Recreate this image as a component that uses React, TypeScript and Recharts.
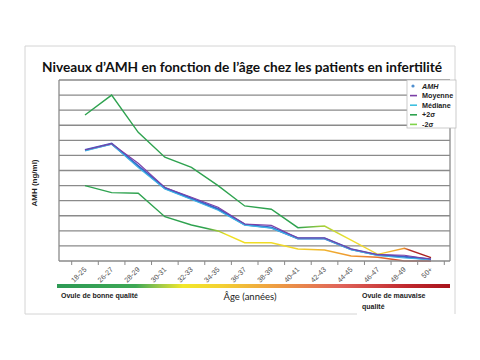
import React from "react";
import { LineChart, Line, XAxis, YAxis, ReferenceLine } from "recharts";

// age groups along the x axis
const AGES = [
	"18-25", "26-27", "28-29", "30-31", "32-33", "34-35", "36-37",
	"38-39", "40-41", "42-43", "44-45", "46-47", "48-49", "50+",
];

// AMH values (ng/ml)
const AMH = [7.36, 7.78, 6.3, 4.83, 4.15, 3.45, 2.42, 2.22, 1.5, 1.5, 0.78, 0.4, 0.28, 0.11];
const MOYENNE = [7.36, 7.78, 6.48, 4.88, 4.22, 3.56, 2.45, 2.36, 1.52, 1.52, 0.8, 0.42, 0.38, 0.12];
const MEDIANE = [7.3, 7.75, 6.2, 4.78, 4.08, 3.36, 2.38, 2.18, 1.48, 1.48, 0.74, 0.36, 0.2, 0.08];
const PLUS_2SD = [9.68, 11.0, 8.53, 6.88, 6.21, 5.0, 3.65, 3.43, 2.21, 2.32, 1.39, 0.44, 0.84, 0.22];
const MINUS_2SD = [5.0, 4.53, 4.49, 2.94, 2.39, 1.99, 1.21, 1.21, 0.8, 0.73, 0.33, 0.25, 0, 0];

const Y_TICKS = [1, 2, 3, 4, 5, 6, 7, 8, 9, 10, 11, 12];

const LEGEND = [
	{ label: "AMH", color: "#4f8fcf", dot: true },
	{ label: "Moyenne", color: "#7b3fa6" },
	{ label: "Médiane", color: "#3fc0e0" },
	{ label: "+2σ", color: "#2ea24f" },
	{ label: "-2σ", color: "#7fd34a" },
];

const chartData = AGES.map((age, i) => ({
	age,
	amh: AMH[i],
	moyenne: MOYENNE[i],
	mediane: MEDIANE[i],
	plus: PLUS_2SD[i],
	minus: MINUS_2SD[i],
}));

const STEP = (391 - 26 - 19) / (AGES.length - 1);

const AgeTick = (props: any) => {
	const { x, y, payload, index } = props;
	const last = index === AGES.length - 1;
	return (
		<g>
			<line x1={x - STEP / 2} x2={x - STEP / 2} y1={y} y2={y + 4} stroke="#888" />
			{last && <line x1={x + STEP / 2} x2={x + STEP / 2} y1={y} y2={y + 4} stroke="#888" />}
			<text
				x={x + 2}
				y={y + 9}
				textAnchor="end"
				transform={`rotate(-45 ${x + 2} ${y + 9})`}
				fontSize={7.2}
				fill="#555"
				fontFamily="Arial, Liberation Sans, sans-serif">
				{payload.value}
			</text>
		</g>
	);
};

const App = () => {
	const font = "Liberation Sans, Arial, sans-serif";
	return (
		<div style={{ position: "absolute", left: 0, top: 0, width: 480, height: 360, background: "#fff" }}>
			<LineChart
				width={480}
				height={360}
				data={chartData}
				margin={{ top: 80, right: 29, bottom: 69, left: 58 }}>
				<defs>
					<linearGradient id="gUp" x1="0" y1="0" x2="1" y2="0">
						<stop offset="0" stopColor="#2ea24f" />
						<stop offset="0.615" stopColor="#2ea24f" />
						<stop offset="0.69" stopColor="#a8d03a" />
						<stop offset="0.76" stopColor="#eee02c" />
						<stop offset="0.85" stopColor="#f0d030" />
						<stop offset="0.92" stopColor="#ee9a30" />
						<stop offset="0.94" stopColor="#b42a2a" />
						<stop offset="1" stopColor="#a51c1c" />
					</linearGradient>
					<linearGradient id="gLow" x1="0" y1="0" x2="1" y2="0">
						<stop offset="0" stopColor="#2ea24f" />
						<stop offset="0.35" stopColor="#2ea24f" />
						<stop offset="0.41" stopColor="#f0e020" />
						<stop offset="0.6" stopColor="#f0d82a" />
						<stop offset="0.7" stopColor="#f0b030" />
						<stop offset="0.8" stopColor="#ec8a30" />
						<stop offset="0.9" stopColor="#d85030" />
						<stop offset="1" stopColor="#b02020" />
					</linearGradient>
				</defs>
				{Y_TICKS.map((v) => (
					<ReferenceLine key={v} y={v} stroke="#8a8a8a" strokeWidth={1.3} />
				))}
				<XAxis
					dataKey="age"
					interval={0}
					padding={{ left: 26, right: 19 }}
					height={30}
					tickSize={0}
					tickMargin={0}
					tickLine={false}
					axisLine={{ stroke: "#8a8a8a", strokeWidth: 1.3 }}
					tick={<AgeTick />}
				/>
				<YAxis
					domain={[0, 12]}
					width={1}
					tick={false}
					tickLine={false}
					axisLine={{ stroke: "#8a8a8a", strokeWidth: 1.3 }}
				/>
				<YAxis
					yAxisId="frame"
					orientation="right"
					domain={[0, 12]}
					width={1}
					tick={false}
					tickLine={false}
					axisLine={{ stroke: "#8a8a8a", strokeWidth: 1.3 }}
				/>
				<Line dataKey="plus" stroke="url(#gUp)" strokeWidth={1.4} dot={false} isAnimationActive={false} />
				<Line dataKey="minus" stroke="url(#gLow)" strokeWidth={1.4} dot={false} isAnimationActive={false} />
				<Line dataKey="amh" stroke="#3a62c8" strokeWidth={2.2} dot={false} isAnimationActive={false} />
				<Line dataKey="mediane" stroke="#3fb5e5" strokeWidth={1.1} dot={false} isAnimationActive={false} />
				<Line dataKey="moyenne" stroke="#7b3fa6" strokeWidth={1.1} dot={false} isAnimationActive={false} />
			</LineChart>

			{/* frame, titles, legend and the age colour bar */}
			<svg width={480} height={360} style={{ position: "absolute", left: 0, top: 0, pointerEvents: "none" }}>
				<defs>
					<linearGradient id="ageBar" x1="0" y1="0" x2="1" y2="0">
						<stop offset="0" stopColor="#2d9a55" />
						<stop offset="0.2" stopColor="#3da855" />
						<stop offset="0.26" stopColor="#9cc84a" />
						<stop offset="0.32" stopColor="#f2e829" />
						<stop offset="0.42" stopColor="#f3d032" />
						<stop offset="0.55" stopColor="#ee9f42" />
						<stop offset="0.72" stopColor="#e0645a" />
						<stop offset="0.89" stopColor="#c0282e" />
						<stop offset="1" stopColor="#a8141c" />
					</linearGradient>
				</defs>
				<polyline points="357,314 25,314 25,46 455,46 455,314" fill="none" stroke="#d4d4d4" />
				<text
					x={42}
					y={72}
					textLength={400}
					lengthAdjust="spacingAndGlyphs"
					fontFamily="Lato, Open Sans, sans-serif"
					fontWeight="bold"
					fontSize={13.5}
					fill="#111">
					Niveaux d’AMH en fonction de l’âge chez les patients en infertilité
				</text>
				<text
					x={37}
					y={183}
					transform="rotate(-90 37 183)"
					textAnchor="middle"
					fontFamily={font}
					fontWeight="bold"
					fontSize={8}
					fill="#222">
					AMH (ng/ml)
				</text>

				<rect x={407} y={80} width={49} height={48} fill="#fff" stroke="#bdbdbd" strokeWidth={0.8} />
				{LEGEND.map((item, i) => {
					const cy = 86 + i * 9.6;
					return (
						<g key={item.label}>
							{item.dot ? (
								<circle cx={413} cy={cy} r={1.6} fill={item.color} />
							) : (
								<line x1={410} x2={417} y1={cy} y2={cy} stroke={item.color} strokeWidth={1.6} />
							)}
							<text
								x={422}
								y={cy + 2.6}
								fontFamily={font}
								fontWeight="bold"
								fontStyle={item.dot ? "italic" : "normal"}
								fontSize={7.2}
								fill="#222">
								{item.label}
							</text>
						</g>
					);
				})}

				<rect x={57} y={284} width={393} height={4} fill="url(#ageBar)" />
				<text x={61} y={298} fontFamily={font} fontWeight="bold" fontSize={7} fill="#222">
					Ovule de bonne qualité
				</text>
				<text x={250} y={300} textAnchor="middle" fontFamily="Lato, sans-serif" fontSize={9.5} fill="#222">
					Âge (années)
				</text>
				<text x={362} y={298} fontFamily={font} fontWeight="bold" fontSize={7} fill="#222">
					Ovule de  mauvaise
				</text>
				<text x={362} y={309} fontFamily={font} fontWeight="bold" fontSize={7} fill="#222">
					qualité
				</text>
			</svg>
		</div>
	);
};

export default App;
